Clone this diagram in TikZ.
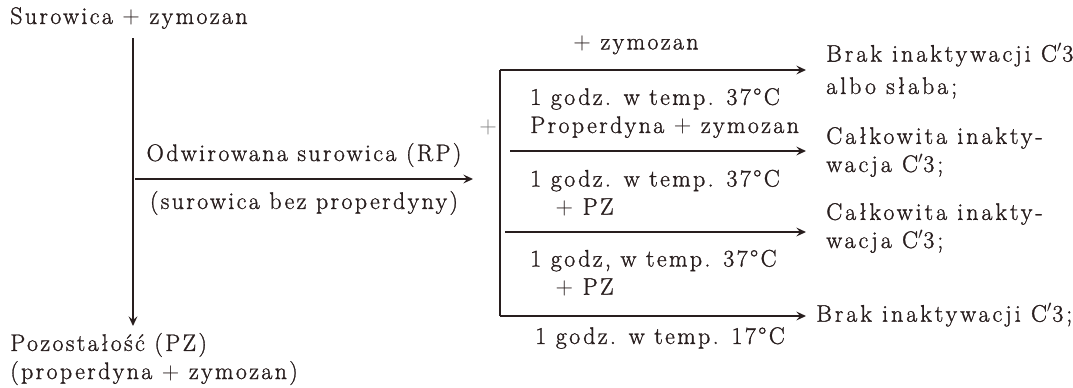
\documentclass[tikz,border=0pt]{standalone}
\usepackage{fontspec}
\setmainfont{Latin Modern Roman}[LetterSpace=10, FakeBold=1.2]
\usepackage{tikz}
\usetikzlibrary{arrows.meta,positioning}
\definecolor{ink}{RGB}{40,30,30}
\tikzset{
  lbl/.style = {font=\fontsize{17}{20}\selectfont, text=ink, inner sep=0pt, align=left},
  res/.style = {lbl, font=\fontsize{17}{20}\selectfont\addfontfeature{LetterSpace=12.5}},
  arr/.style = {-{Stealth[length=2.4mm,width=2.2mm,inset=0.9mm]}, line width=1.1pt, ink},
  ln/.style  = {line width=1.1pt, ink}
}

\begin{document}
\begin{tikzpicture}[x=0.025cm, y=-0.025cm]
  \useasboundingbox (0,0) rectangle (1073,388);

  % left column
  \node[lbl, anchor=west] (src) at (10,18) {Surowica $+$ zymozan};
  \node[lbl, anchor=west] (rest) at (10,359) {Pozostałość (PZ)\\(properdyna $+$ zymozan)};
  \coordinate (top) at (133,38);
  \coordinate (bot) at (133,326);
  \coordinate (split) at (135,179);
  \coordinate (rp) at (473,179);
  \draw[arr] (top) -- (bot);
  \draw[arr] (split) -- (rp)
    node[lbl, midway, above=8pt] (rplbl) {Odwirowana surowica (RP)}
    node[lbl, midway, below=8pt] (rpsub) {(surowica bez properdyny)};

  % bracket
  \coordinate (b1) at (500,70);
  \coordinate (b2) at (510,151);
  \coordinate (b3) at (505,232);
  \coordinate (b4) at (500,316);
  \draw[ln] (b1) -- (b4);
  \node[lbl, text=gray] (plus) at (488,127) {$+$};

  % arrows to results
  \foreach \i/\y in {1/70,2/151,3/232,4/316}
    \coordinate (e\i) at (806,\y);
  \draw[arr] (b1) -- (e1);
  \draw[arr] (b2) -- (e2);
  \draw[arr] (b3) -- (e3);
  \draw[arr] (b4) -- (e4);

  % conditions
  \node[lbl] (add) at (636,45) {$+$ zymozan};
  \node[lbl, anchor=west] (c1) at (530,113) {1 godz. w temp. 37\textdegree C\\Properdyna $+$ zymozan};
  \node[lbl, anchor=west] (c2) at (530,193) {1 godz. w temp. 37\textdegree C\\\hspace{18pt}$+$ PZ};
  \node[lbl, anchor=west] (c3) at (530,273) {1 godz, w temp. 37\textdegree C\\\hspace{18pt}$+$ PZ};
  \node[lbl, anchor=west] (c4) at (535,338) {1 godz. w temp. 17\textdegree C};

  % results
  \node[res, anchor=west] (r1) at (826,71) {Brak inaktywacji C$'$3\\[3pt]albo słaba;};
  \node[res, anchor=west] (r2) at (826,152) {Całkowita inakty-\\wacja C$'$3;};
  \node[res, anchor=west] (r3) at (826,228) {Całkowita inakty-\\wacja C$'$3;};
  \node[res, anchor=west] (r4) at (816,315) {Brak inaktywacji C$'$3;};
\end{tikzpicture}
\end{document}
